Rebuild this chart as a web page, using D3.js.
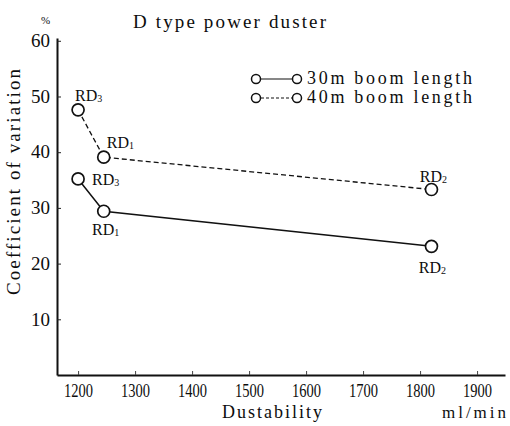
<!DOCTYPE html>
<html>
<head>
<meta charset="utf-8">
<script src="https://cdn.jsdelivr.net/npm/d3@7"></script>
<style>
	body { margin: 0; background: #fff; }
	svg text { font-family: "Liberation Serif", "Times New Roman", serif; fill: #0d0d0d; }
</style>
</head>
<body>
<div id="chart"></div>
<script>
/* values */
const dustability = [1200, 1245, 1820];
const cv30 = [35.2, 29.4, 23.1];
const cv40 = [47.6, 39.1, 33.3];
const labels30 = ["3", "1", "2"];
const labels40 = ["3", "1", "2"];
const xTicks = [1200, 1300, 1400, 1500, 1600, 1700, 1800, 1900];
const yTicks = [10, 20, 30, 40, 50, 60];
const seriesNames = ["30m boom length", "40m boom length"];

const width = 510, height = 426;

const svg = d3.select("#chart").append("svg")
	.attr("width", width)
	.attr("height", height);

const x = d3.scaleLinear().domain([1163, 1949]).range([57, 505]);
const y = d3.scaleLinear().domain([0, 60.5]).range([375, 38]);

/* title */
svg.append("text")
	.attr("x", 133)
	.attr("y", 28)
	.attr("font-size", "19px")
	.attr("textLength", 193)
	.attr("lengthAdjust", "spacing")
	.text("D type power duster");

/* y axis */
const yAxis = svg.append("g")
	.attr("transform", `translate(${x(1163)},0)`)
	.call(d3.axisLeft(y).tickValues(yTicks).tickSize(-4).tickSizeOuter(0).tickPadding(7));
yAxis.select(".domain").attr("stroke", "#111").attr("stroke-width", 2);
yAxis.selectAll(".tick line").attr("stroke", "#222");
yAxis.selectAll(".tick text")
	.attr("font-size", "18px")
	.attr("font-family", "Liberation Serif, serif")
	.attr("fill", "#0d0d0d")
	.attr("textLength", 19)
	.attr("lengthAdjust", "spacingAndGlyphs");

/* x axis */
const xAxis = svg.append("g")
	.attr("transform", `translate(0,${y(0)})`)
	.call(d3.axisBottom(x).tickValues(xTicks).tickFormat(d3.format("d"))
		.tickSize(-4).tickSizeOuter(0).tickPadding(9));
xAxis.select(".domain").attr("stroke", "#111").attr("stroke-width", 2);
xAxis.selectAll(".tick line").attr("stroke", "#444");
xAxis.selectAll(".tick text")
	.attr("font-size", "18px")
	.attr("font-family", "Liberation Serif, serif")
	.attr("fill", "#0d0d0d")
	.attr("textLength", 29)
	.attr("lengthAdjust", "spacingAndGlyphs");

/* axis titles */
svg.append("text")
	.attr("transform", `translate(20,${182}) rotate(-90)`)
	.attr("text-anchor", "middle")
	.attr("font-size", "19px")
	.attr("textLength", 226)
	.attr("lengthAdjust", "spacing")
	.text("Coefficient of variation");

svg.append("text")
	.attr("x", 41)
	.attr("y", 24)
	.attr("font-size", "11px")
	.attr("fill", "#777")
	.text("%");

svg.append("text")
	.attr("x", 272)
	.attr("y", 418)
	.attr("text-anchor", "middle")
	.attr("font-size", "18px")
	.attr("textLength", 100)
	.attr("lengthAdjust", "spacing")
	.text("Dustability");

svg.append("text")
	.attr("x", 442)
	.attr("y", 418)
	.attr("font-size", "17px")
	.attr("textLength", 64)
	.attr("lengthAdjust", "spacing")
	.text("ml/min");

/* lines */
const line = d3.line().x(d => x(d[0])).y(d => y(d[1]));
const pts30 = dustability.map((d, i) => [d, cv30[i]]);
const pts40 = dustability.map((d, i) => [d, cv40[i]]);

svg.append("path")
	.datum(pts30)
	.attr("d", line)
	.attr("fill", "none")
	.attr("stroke", "#111")
	.attr("stroke-width", 1.5);

svg.append("path")
	.datum(pts40)
	.attr("d", line)
	.attr("fill", "none")
	.attr("stroke", "#111")
	.attr("stroke-width", 1.3)
	.attr("stroke-dasharray", "5 3");

/* markers */
function drawMarkers(pts) {
	svg.append("g")
		.selectAll("circle")
		.data(pts)
		.join("circle")
		.attr("cx", d => x(d[0]))
		.attr("cy", d => y(d[1]))
		.attr("r", 6)
		.attr("fill", "#fff")
		.attr("stroke", "#111")
		.attr("stroke-width", 1.7);
}
drawMarkers(pts30);
drawMarkers(pts40);

/* RD point labels: offsets from the marker */
const place30 = [[14, 6, "start"], [2, 24, "middle"], [1, 27, "middle"]];
const place40 = [[-3, -9, "start"], [3, -9, "start"], [2, -8, "middle"]];

function drawLabels(pts, subs, place) {
	pts.forEach((d, i) => {
		const t = svg.append("text")
			.attr("x", x(d[0]) + place[i][0])
			.attr("y", y(d[1]) + place[i][1])
			.attr("text-anchor", place[i][2])
			.attr("font-size", "16px")
			.text("RD");
		t.append("tspan")
			.attr("font-size", "10px")
			.attr("dy", 1)
			.text(subs[i]);
	});
}
drawLabels(pts30, labels30, place30);
drawLabels(pts40, labels40, place40);

/* legend */
const legend = svg.append("g");
seriesNames.forEach((name, i) => {
	const ly = 79 + i * 19;
	legend.append("line")
		.attr("x1", 256).attr("x2", 297)
		.attr("y1", ly).attr("y2", ly)
		.attr("stroke", "#111")
		.attr("stroke-width", 1.2)
		.attr("stroke-dasharray", i === 0 ? null : "3 2");
	[256, 297].forEach(cx => {
		legend.append("circle")
			.attr("cx", cx)
			.attr("cy", ly)
			.attr("r", 4.5)
			.attr("fill", "#fff")
			.attr("stroke", "#111")
			.attr("stroke-width", 1.5);
	});
	legend.append("text")
		.attr("x", 307)
		.attr("y", ly + 5)
		.attr("font-size", "18px")
		.attr("textLength", 165)
		.attr("lengthAdjust", "spacing")
		.text(name);
});
</script>
</body>
</html>
